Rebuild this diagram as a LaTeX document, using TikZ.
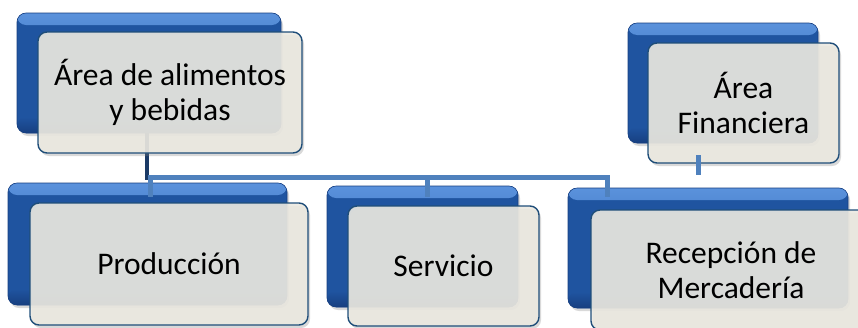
\documentclass[tikz,border=0pt]{standalone}
\usepackage{fontspec}
\setmainfont{Carlito}
\usetikzlibrary{shadows}
\definecolor{bluetop}{HTML}{5A92DC}
\definecolor{bluemid}{HTML}{1F54A0}
\definecolor{bluebot}{HTML}{173F80}
\definecolor{frontfill}{HTML}{EBE9E1}
\definecolor{frontline}{HTML}{1F4E79}
\definecolor{buscol}{HTML}{4F81BD}
\definecolor{darkcol}{HTML}{1B3A66}
\tikzset{
  backbox/.style={rectangle, rounded corners=9pt, inner sep=0pt,
    fill=bluemid, draw=bluebot, line width=0.6pt,
    path picture={
      \shade[top color=bluetop, bottom color=bluemid]
        (path picture bounding box.north west) rectangle
        ([yshift=-12pt]path picture bounding box.north east);
      \shade[top color=bluemid, bottom color=bluebot]
        ([yshift=16pt]path picture bounding box.south west) rectangle
        (path picture bounding box.south east);
    },
    drop shadow={shadow xshift=2pt, shadow yshift=-3pt, opacity=0.3}},
  frontbox/.style={rectangle, rounded corners=9pt, inner sep=0pt,
    fill=frontfill, fill opacity=0.9, text opacity=1,
    draw=frontline, line width=1.4pt, align=center,
    font=\fontsize{31.5pt}{35pt}\selectfont,
    drop shadow={shadow xshift=2pt, shadow yshift=-3pt, opacity=0.3}},
  bus/.style={draw=buscol, line width=5pt},
  darkline/.style={draw=darkcol, line width=4pt}
}
\begin{document}
\begin{tikzpicture}[x=1pt, y=-1pt]
\useasboundingbox (0,0) rectangle (858,327);
\clip (0,0) rectangle (858,327);
% back boxes
\node[backbox, minimum width=264pt, minimum height=120pt] (ab) at (149,73) {};
\node[backbox, minimum width=190pt, minimum height=120pt] (fb) at (723,83) {};
\node[backbox, minimum width=279pt, minimum height=122pt] (pb) at (147.5,244) {};
\node[backbox, minimum width=191pt, minimum height=121pt] (sb) at (422.5,246.5) {};
\node[backbox, minimum width=280pt, minimum height=120pt] (rb) at (708,248) {};
% connector from top box
\coordinate (j0) at (147,180);
\draw[darkline] (ab.south -| j0) -- (j0);
% front boxes
\node[frontbox, minimum width=264pt, minimum height=121pt] (a) at (170,92.5) {Área de alimentos\\y bebidas};
\node[frontbox, minimum width=191pt, minimum height=120pt] (f) at (743.5,103) {Área\\Financiera};
\node[frontbox, minimum width=278pt, minimum height=122pt] (p) at (169,264) {Producción};
\node[frontbox, minimum width=191pt, minimum height=120pt] (s) at (443.5,266) {Servicio};
\node[frontbox, minimum width=280pt, minimum height=120pt] (r) at (731,270) {Recepción de\\Mercadería};
% bus connectors
\coordinate (bus) at (148,177);
\coordinate (d1) at (150,197);
\coordinate (d2) at (427,197);
\coordinate (d3) at (607,197);
\draw[bus] (d1) -- (d1 |- bus) -- (d3 |- bus) -- (d3);
\draw[bus] (d2 |- bus) -- (d2);
\draw[bus] (bus) -- (d1 |- bus);
% financiera stub
\coordinate (fs1) at (698,155);
\coordinate (fs2) at (698,175);
\draw[bus] (fs1) -- (fs2);
\end{tikzpicture}
\end{document}
